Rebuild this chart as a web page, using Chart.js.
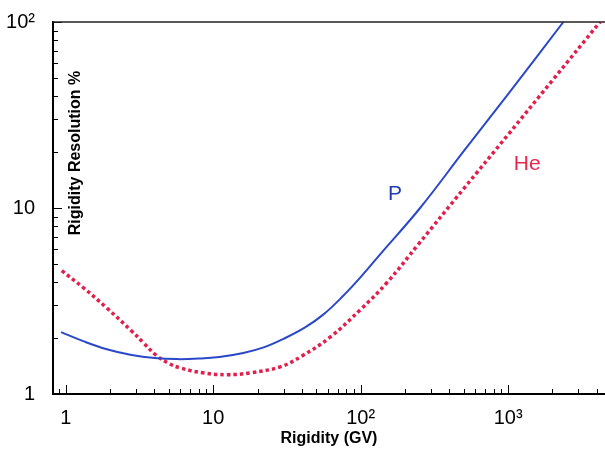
<!DOCTYPE html>
<html>
<head>
<meta charset="utf-8">
<script src="https://cdn.jsdelivr.net/npm/chart.js@4.4.0/dist/chart.umd.min.js"></script>
<style>
    body { margin: 0; background: #fff; }
    #wrap { width: 605px; height: 450px; }
</style>
</head>
<body>
<div id="wrap"><canvas id="resChart"></canvas></div>
<script>
    // rigidity (GV) and resolution (%)
    let pRigidity = [0.93, 1.3, 1.9, 2.8, 4, 5.7, 8, 11, 16, 22, 30, 42, 56, 75, 100, 136, 253, 500, 1000, 2370];
    let pResolution = [2.15, 1.93, 1.74, 1.62, 1.56, 1.54, 1.55, 1.58, 1.66, 1.78, 1.98, 2.28, 2.68, 3.33, 4.25, 5.65, 10, 20.2, 41, 100];

    let heRigidity = [0.94, 1.3, 1.9, 2.8, 3.4, 4.05, 5, 6, 8.5, 12.4, 18, 28.5, 40, 62, 100, 150, 247, 500, 1000, 2000, 4200];
    let heResolution = [4.6, 3.76, 2.9, 2.18, 1.87, 1.63, 1.46, 1.38, 1.30, 1.27, 1.30, 1.40, 1.6, 2.02, 2.85, 3.95, 6.4, 12.7, 24.8, 48.6, 100];

    let xTickValues = [1, 10, 100, 1000];
    let xTickLabels = ['1', '10', '10²', '10³'];
    let yTickValues = [1, 10, 100];
    let yTickLabels = ['1', '10', '10²'];

    const FONT = '"Liberation Sans", Arial, sans-serif';
    const BLUE = '#2a48c8';
    const RED = '#e0204c';

    function toPoints(xs, ys) {
        let pts = [];
        for (let i = 0; i < xs.length; i++) {
            pts.push({ x: xs[i], y: ys[i] });
        }
        return pts;
    }

    // minor ticks pointing inward, top frame line, labels inside the plot
    const extras = {
        id: 'extras',
        afterDraw(chart) {
            const ctx = chart.ctx;
            const a = chart.chartArea;
            const xs = chart.scales.x;
            const ys = chart.scales.y;
            ctx.save();
            ctx.strokeStyle = '#000';
            ctx.lineWidth = 1;

            for (let d = 0.1; d <= 1000; d *= 10) {
                for (let m = 1; m <= 9; m++) {
                    let v = m * d;
                    let len = (m == 1) ? 9 : 5;
                    if (v >= xs.min && v <= xs.max) {
                        let px = Math.round(xs.getPixelForValue(v)) + 0.5;
                        ctx.beginPath();
                        ctx.moveTo(px, a.bottom);
                        ctx.lineTo(px, a.bottom - len);
                        ctx.stroke();
                    }
                    if (v >= ys.min && v <= ys.max) {
                        let py = Math.round(ys.getPixelForValue(v)) + 0.5;
                        ctx.beginPath();
                        ctx.moveTo(a.left, py);
                        ctx.lineTo(a.left + len, py);
                        ctx.stroke();
                    }
                }
            }

            // top border
            ctx.strokeStyle = '#222';
            ctx.lineWidth = 1.5;
            ctx.beginPath();
            ctx.moveTo(a.left, a.top);
            ctx.lineTo(a.right, a.top);
            ctx.stroke();

            // y title sits inside the plot
            ctx.fillStyle = '#000';
            ctx.font = 'bold 16px ' + FONT;
            ctx.textAlign = 'center';
            ctx.textBaseline = 'middle';
            ctx.translate(a.left + 23, (a.top + a.bottom) / 2 - 55);
            ctx.rotate(-Math.PI / 2);
            ctx.fillText('Rigidity Resolution %', 0, 0);
            ctx.restore();

            ctx.save();
            ctx.font = '21px ' + FONT;
            ctx.textAlign = 'center';
            ctx.textBaseline = 'middle';
            ctx.fillStyle = '#1e3cb4';
            ctx.fillText('P', xs.getPixelForValue(171), ys.getPixelForValue(11.9));
            ctx.fillStyle = '#e6284f';
            ctx.fillText('He', xs.getPixelForValue(1346), ys.getPixelForValue(17.2));
            ctx.restore();
        }
    };

    const ctxRes = document.getElementById('resChart').getContext('2d');
    const resChart = new Chart(ctxRes, {
        type: 'scatter',
        data: {
            datasets: [
                {
                    label: 'P',
                    data: toPoints(pRigidity, pResolution),
                    showLine: true,
                    borderColor: BLUE,
                    borderWidth: 2,
                    pointRadius: 0,
                    tension: 0.4
                },
                {
                    label: 'He',
                    data: toPoints(heRigidity, heResolution),
                    showLine: true,
                    borderColor: RED,
                    borderWidth: 3.5,
                    borderDash: [3.5, 3],
                    pointRadius: 0,
                    tension: 0.4
                }
            ]
        },
        options: {
            responsive: true,
            maintainAspectRatio: false,
            animation: false,
            layout: { padding: { top: 20, right: 0, left: 0, bottom: 0 } },
            plugins: {
                legend: { display: false },
                tooltip: { enabled: false }
            },
            scales: {
                x: {
                    type: 'logarithmic',
                    min: 0.82,
                    max: 4540,
                    afterBuildTicks: function(scale) {
                        scale.ticks = xTickValues.map(v => ({ value: v }));
                    },
                    afterFit: function(scale) { scale.height = 56; },
                    grid: { display: false },
                    border: { display: true, color: '#000', width: 2 },
                    ticks: {
                        autoSkip: false,
                        maxRotation: 0,
                        padding: 4,
                        color: '#000',
                        font: { size: 20, family: FONT },
                        callback: function(value, index) { return xTickLabels[index]; }
                    },
                    title: {
                        display: true,
                        text: 'Rigidity (GV)',
                        color: '#000',
                        font: { size: 16, weight: 'bold', family: FONT },
                        padding: { top: 0, bottom: 2 }
                    }
                },
                y: {
                    type: 'logarithmic',
                    min: 1,
                    max: 100,
                    afterBuildTicks: function(scale) {
                        scale.ticks = yTickValues.map(v => ({ value: v }));
                    },
                    afterFit: function(scale) { scale.width = 53; },
                    grid: { display: false },
                    border: { display: true, color: '#000', width: 2 },
                    ticks: {
                        autoSkip: false,
                        padding: 10,
                        color: '#000',
                        font: { size: 20, family: FONT },
                        callback: function(value, index) { return yTickLabels[index]; }
                    }
                }
            }
        },
        plugins: [extras]
    });
</script>
</body>
</html>
